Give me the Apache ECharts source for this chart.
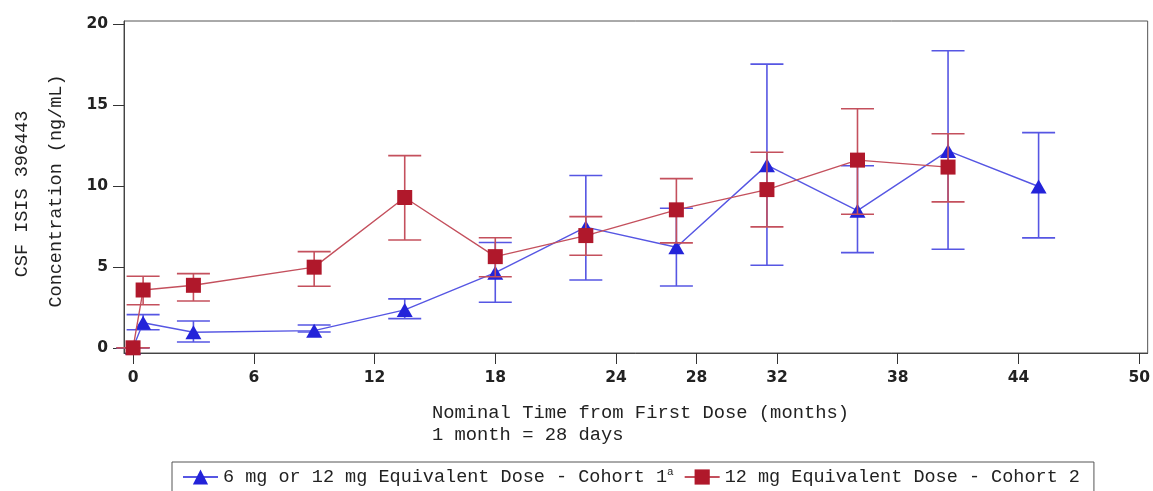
<!DOCTYPE html>
<html>
<head>
<meta charset="utf-8">
<script src="https://cdn.jsdelivr.net/npm/echarts@6/dist/echarts.min.js"></script>
<style>
html,body{margin:0;padding:0;background:#fff;}
#chart{width:1153px;height:491px;}
</style>
</head>
<body>
<div id="chart"></div>
<script>
// ---- data ----
const months = [0, 0.5, 3, 9, 13.5, 18, 22.5, 27, 31.5, 36, 40.5, 45];
const xTicks = [0, 6, 12, 18, 24, 28, 32, 38, 44, 50];
const yTicks = [0, 5, 10, 15, 20];

const cohort1Name = '6 mg or 12 mg Equivalent Dose - Cohort 1';
const cohort1Mean  = [0, 1.55, 0.96, 1.06, 2.34, 4.64, 7.45, 6.21, 11.28, 8.47, 12.16, 9.96];
const cohort1Lower = [0, 1.12, 0.36, 0.98, 1.80, 2.81, 4.19, 3.82, 5.10, 5.88, 6.09, 6.79];
const cohort1Upper = [0, 2.05, 1.66, 1.41, 3.02, 6.50, 10.64, 8.62, 17.52, 11.24, 18.34, 13.29];

const cohort2Name = '12 mg Equivalent Dose - Cohort 2';
const cohort2Mean  = [0, 3.57, 3.86, 4.98, 9.28, 5.63, 6.93, 8.52, 9.77, 11.59, 11.16];
const cohort2Lower = [0, 2.66, 2.89, 3.80, 6.66, 4.39, 5.72, 6.48, 7.47, 8.25, 9.01];
const cohort2Upper = [0, 4.42, 4.58, 5.94, 11.87, 6.80, 8.10, 10.45, 12.08, 14.76, 13.22];

// ---- styling ----
const BLUE = '#2323d9';
const BLUE_LINE = '#5656e3';
const RED = '#b0182b';
const RED_LINE = '#c4505d';
const MONO = '"Liberation Mono", "DejaVu Sans Mono", monospace';
const TICKFONT = '"DejaVu Sans", Verdana, sans-serif';

function pairs(xs, ys) { return ys.map((v, i) => [xs[i], v]); }
function triples(xs, lo, hi) { return lo.map((v, i) => [xs[i], v, hi[i]]); }

function errorBarSeries(data, color, z) {
  return {
    type: 'custom',
    data: data,
    z: z,
    silent: true,
    encode: { x: 0, y: [1, 2] },
    renderItem: function (params, api) {
      const x = api.value(0);
      const pLo = api.coord([x, api.value(1)]);
      const pHi = api.coord([x, api.value(2)]);
      const half = 16.5;
      const st = { stroke: color, lineWidth: 1.6 };
      return {
        type: 'group',
        children: [
          { type: 'line', shape: { x1: pLo[0], y1: pLo[1], x2: pHi[0], y2: pHi[1] }, style: st },
          { type: 'line', shape: { x1: pLo[0] - half, y1: pLo[1], x2: pLo[0] + half, y2: pLo[1] }, style: st },
          { type: 'line', shape: { x1: pHi[0] - half, y1: pHi[1], x2: pHi[0] + half, y2: pHi[1] }, style: st }
        ]
      };
    }
  };
}

const chart = echarts.init(document.getElementById('chart'), null, { renderer: 'canvas' });

const option = {
  animation: false,
  backgroundColor: '#fff',
  grid: {
    left: 124, right: 2, top: 21, bottom: 138,
    show: true, borderColor: '#555', borderWidth: 1, backgroundColor: 'transparent'
  },
  xAxis: {
    type: 'value',
    min: -0.45, max: 50.42,
    axisLine: { show: true, onZero: false, lineStyle: { color: '#444', width: 1 } },
    axisTick: { show: true, length: 11, inside: false, customValues: xTicks, lineStyle: { color: '#333' } },
    axisLabel: { customValues: xTicks, margin: 17, fontFamily: TICKFONT, fontSize: 15.5, fontWeight: 'bold', color: '#222' },
    splitLine: { show: false }
  },
  yAxis: {
    type: 'value',
    min: -0.32, max: 20.18,
    axisLine: { show: true, onZero: false, lineStyle: { color: '#444', width: 1 } },
    axisTick: { show: true, length: 11, inside: false, customValues: yTicks, lineStyle: { color: '#333' } },
    axisLabel: { customValues: yTicks, margin: 16, fontFamily: TICKFONT, fontSize: 15.5, fontWeight: 'bold', color: '#222' },
    splitLine: { show: false }
  },
  legend: {
    left: 172, top: 462,
    orient: 'horizontal',
    padding: [5, 14, 6, 10],
    borderColor: '#555', borderWidth: 1,
    itemWidth: 35, itemHeight: 19, itemGap: 10,
    data: [cohort1Name, cohort2Name],
    formatter: function (name) {
      return name === cohort1Name ? '{t|' + name + '}{s|a}' : '{t|' + name + '}';
    },
    textStyle: {
      fontFamily: MONO, fontSize: 18.5, color: '#222',
      rich: {
        t: { fontFamily: MONO, fontSize: 18.5, color: '#222', lineHeight: 20 },
        s: { fontFamily: MONO, fontSize: 11, color: '#222', verticalAlign: 'top', lineHeight: 20, padding: [0, 0, 6, 0] }
      }
    }
  },
  graphic: [
    {
      type: 'text', left: 432, top: 404, silent: true,
      style: { text: 'Nominal Time from First Dose (months)', fontFamily: MONO, fontSize: 18.8, fill: '#222' }
    },
    {
      type: 'text', left: 432, top: 426, silent: true,
      style: { text: '1 month = 28 days', fontFamily: MONO, fontSize: 18.8, fill: '#222' }
    },
    {
      type: 'text', x: 22, y: 194, rotation: Math.PI / 2, silent: true,
      style: { text: 'CSF ISIS 396443', fontFamily: MONO, fontSize: 18.5, fill: '#222', align: 'center', verticalAlign: 'middle' }
    },
    {
      type: 'text', x: 56, y: 191, rotation: Math.PI / 2, silent: true,
      style: { text: 'Concentration (ng/mL)', fontFamily: MONO, fontSize: 18.5, fill: '#222', align: 'center', verticalAlign: 'middle' }
    }
  ],
  series: [
    errorBarSeries(triples(months, cohort1Lower, cohort1Upper), BLUE_LINE, 1),
    {
      name: cohort1Name,
      type: 'line',
      z: 2,
      data: pairs(months, cohort1Mean),
      symbol: 'triangle',
      symbolSize: [16, 14],
      itemStyle: { color: BLUE },
      lineStyle: { color: BLUE_LINE, width: 1.4 },
      emphasis: { disabled: true }
    },
    errorBarSeries(triples(months, cohort2Lower, cohort2Upper), RED_LINE, 3),
    {
      name: cohort2Name,
      type: 'line',
      z: 4,
      data: pairs(months, cohort2Mean),
      symbol: 'rect',
      symbolSize: 15,
      itemStyle: { color: RED },
      lineStyle: { color: RED_LINE, width: 1.4 },
      emphasis: { disabled: true }
    }
  ]
};

chart.setOption(option);
</script>
</body>
</html>
